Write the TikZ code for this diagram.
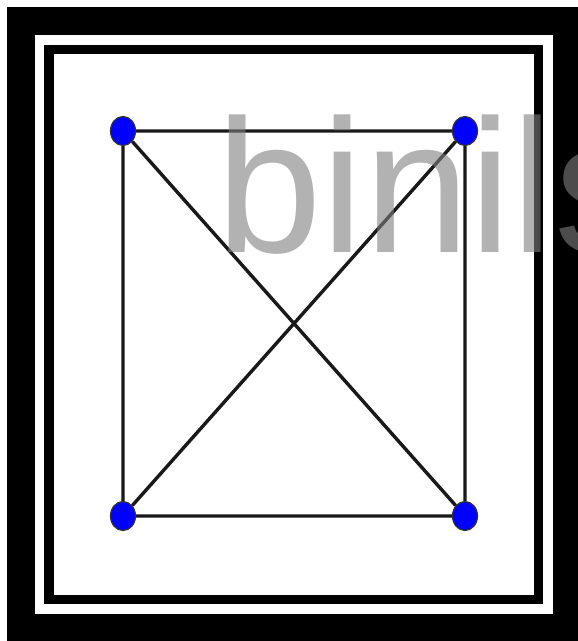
\documentclass[tikz,border=0pt]{standalone}
\usepackage{fontspec}
\setsansfont{Liberation Sans}
\usetikzlibrary{shapes.geometric}
\tikzset{every picture/.style={/utils/exec={\sffamily}}}
\tikzset{vertex/.style={ellipse,draw=black!80,line width=1.2pt,fill=blue,inner sep=0pt,minimum width=25pt,minimum height=29pt},
         edge/.style={draw=black!90,line width=3.4pt}}

\begin{document}
\begin{tikzpicture}[x=1pt,y=-1pt]
    \useasboundingbox (0,0) rectangle (578,641);
    % frame
    \fill [white] (0,0) rectangle (578,641);
    \fill [black] (7,7) rectangle (578,641);
    \fill [white] (35,35) rectangle (553,614);
    \fill [black] (44,45) rectangle (543,604);
    \fill [white] (54,54) rectangle (534,595);
    % graph
    \node [vertex] (v1) at (123,131) {};
    \node [vertex] (v2) at (465,131) {};
    \node [vertex] (v3) at (123,516) {};
    \node [vertex] (v4) at (465,516) {};
    \draw [edge] (v1) -- (v2) -- (v4) -- (v3) -- (v1) -- (v4) (v2) -- (v3);
    % watermark
    \node [anchor=base west,inner sep=0pt,text=black!50,text opacity=0.6,font=\fontsize{190}{190}\selectfont] (watermark) at (216,252) {binils};
\end{tikzpicture}
\end{document}
